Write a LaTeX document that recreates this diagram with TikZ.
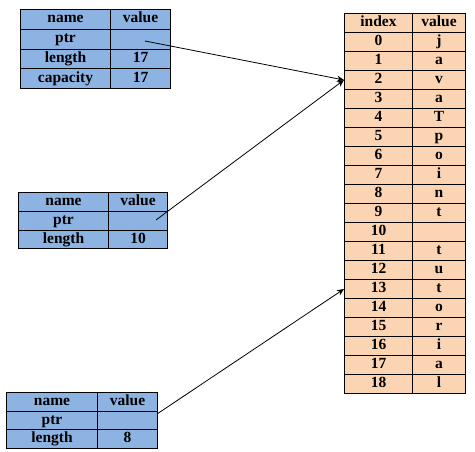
\documentclass[tikz,border=0pt]{standalone}
\usepackage{fontspec}
\setmainfont{Liberation Serif}
\usetikzlibrary{arrows.meta}
\definecolor{bluecell}{HTML}{8DB3E2}
\definecolor{peachcell}{HTML}{FBD4B4}
\newcommand\tabrow[9]{%
  \node[cell,minimum width=#4,minimum height=#7] (#1-#2-0) at (#3,#6) {#8};
  \node[cell,minimum width=#5,minimum height=#7] (#1-#2-1) at (#3+#4,#6) {#9};}
\begin{document}
\begin{tikzpicture}[x=1pt,y=-1pt,
  cell/.style={draw=black,line width=1pt,inner sep=0pt,anchor=north west,
    text height=10.5pt,text depth=3.5pt,
    font=\bfseries\fontsize{15.5}{16}\selectfont},
  ptrarrow/.style={draw=black,line width=0.8pt,-{Stealth[length=7pt,width=6pt]}}]
\useasboundingbox (0,0) rectangle (475,451);
% slice table 1
\begin{scope}[cell/.append style={fill=bluecell}]
\tabrow{a}{0}{20}{90}{60}{9}{19.75}{name}{value}
\tabrow{a}{1}{20}{90}{60}{28.75}{19.75}{ptr}{}
\tabrow{a}{2}{20}{90}{60}{48.5}{19.75}{length}{17}
\tabrow{a}{3}{20}{90}{60}{68.25}{19.75}{capacity}{17}
% slice table 2
\tabrow{b}{0}{18}{90}{59}{192}{18.8}{name}{value}
\tabrow{b}{1}{18}{90}{59}{210.8}{18.8}{ptr}{}
\tabrow{b}{2}{18}{90}{59}{229.6}{18.8}{length}{10}
% slice table 3
\tabrow{c}{0}{6}{91}{60}{392}{18.7}{name}{value}
\tabrow{c}{1}{6}{91}{60}{410.7}{18.7}{ptr}{}
\tabrow{c}{2}{6}{91}{60}{429.4}{18.7}{length}{8}
\end{scope}
% array table
\begin{scope}[cell/.append style={fill=peachcell}]
\tabrow{r}{h}{344}{68}{53}{13}{19}{index}{value}
\foreach \v [count=\i from 0] in {j,a,v,a,T,p,o,i,n,t,{},t,u,t,o,r,i,a,l}{
  \tabrow{r}{\i}{344}{68}{53}{13+19*\i+19}{19}{\i}{\v}
}
\end{scope}
% pointers
\coordinate (p1) at (145,41);
\coordinate (p2) at (156,220);
\coordinate (p3) at (157,414);
\draw[ptrarrow] (p1) -- (r-2-0.west);
\draw[ptrarrow] (p2) -- (r-2-0.west);
\draw[ptrarrow] (p3) -- (r-13-0.west);
\end{tikzpicture}
\end{document}
